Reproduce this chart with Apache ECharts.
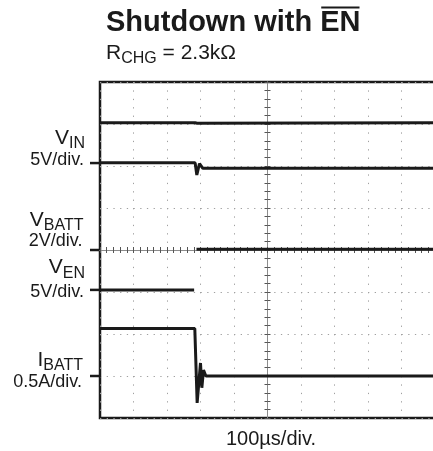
<!DOCTYPE html>
<html>
<head>
<meta charset="utf-8">
<script src="https://cdn.jsdelivr.net/npm/echarts@6/dist/echarts.min.js"></script>
<style>
html, body { margin: 0; padding: 0; background: #fff; }
#chart { width: 433px; height: 451px; }
</style>
</head>
<body>
<div id="chart"></div>
<script>
// scope screen: 100us/div, t = 0 at the centre graticule line
const timeMin = -500
const timeMax = 500
const timeDiv = 100

// channels
const chSymbol = ['V', 'V', 'V', 'I']
const chSub = ['IN', 'BATT', 'EN', 'BATT']
const chScaleText = ['5V/div.', '2V/div.', '5V/div.', '0.5A/div.']
const chPerDiv = [5, 2, 5, 0.5]
const chGround = [2.07, 0, -0.95, -3]   // ground marker, divisions above centre

// traces (t in us, value in V or A)
const vinT = [-500, -216, -213, -210, 500]
const vinV = [4.8, 4.8, 5.0, 4.75, 4.8]

const vbattT = [-500, -216, -211, -203, -193, 500]
const vbattV = [4.15, 4.15, 3.57, 4.12, 3.89, 3.89]

const venT = [-500, -219, -216, -212, 500]
const venV = [0, 0, null, 4.85, 4.85]

const ibattT = [-500, -217, -210, -200, -196, -191, -184, 500]
const ibattV = [0.565, 0.565, -0.32, 0.155, -0.14, 0.07, 0, 0]

const FONT = '"Liberation Sans", Arial, Helvetica, sans-serif'
const INK = '#1a1a1a'

const chart = echarts.init(document.getElementById('chart'))

function pairs(ts, vs) {
    return ts.map((t, i) => [t, vs[i] == null ? '-' : vs[i]])
}

const traces = [
    {data: pairs(vinT, vinV), ch: 0},
    {data: pairs(vbattT, vbattV), ch: 1},
    {data: pairs(venT, venV), ch: 2},
    {data: pairs(ibattT, ibattV), ch: 3}
]

const gridDotV = {color: '#a0a0a0', width: 1, type: [1.3, 7.1]}
const gridDotH = {color: '#a0a0a0', width: 1, type: [1.3, 5.4]}
const centreLine = {color: '#8c8c8c', width: 1}
const centreTick = {color: '#555', width: 1}

const timeAxis = (pos, withGrid) => ({
    type: 'value', position: pos,
    min: timeMin, max: timeMax, interval: timeDiv,
    axisLine: {show: true, onZero: true, onZeroAxisIndex: 0, lineStyle: centreLine},
    axisTick: {show: true, length: 3, lineStyle: centreTick},
    minorTick: {show: true, splitNumber: 5, length: 3, lineStyle: centreTick},
    axisLabel: {show: false},
    splitLine: {show: withGrid, lineStyle: gridDotV}
})

const divAxis = (pos, withGrid) => ({
    type: 'value', position: pos,
    min: -4, max: 4, interval: 1,
    axisLine: {show: true, onZero: true, onZeroAxisIndex: 0, lineStyle: centreLine},
    axisTick: {show: true, length: 3, lineStyle: centreTick},
    minorTick: {show: true, splitNumber: 5, length: 3, lineStyle: centreTick},
    axisLabel: {show: false},
    splitLine: {show: withGrid, lineStyle: gridDotH}
})

const chAxes = chPerDiv.map((s, i) => ({
    type: 'value', show: false,
    min: (-4 - chGround[i]) * s,
    max: (4 - chGround[i]) * s,
    axisLine: {onZero: false},
    splitLine: {show: false}
}))

const option = {
    animation: false,
    backgroundColor: '#fff',
    grid: {
        left: 100, top: 82, width: 335, height: 336,
        outerBoundsMode: 'none',
        show: true, borderColor: INK, borderWidth: 2.5
    },
    xAxis: [timeAxis('bottom', true), timeAxis('top', false)],
    yAxis: [divAxis('left', true), divAxis('right', false)].concat(chAxes),
    series: traces.map(tr => ({
        type: 'line',
        xAxisIndex: 0,
        yAxisIndex: 2 + tr.ch,
        data: tr.data,
        showSymbol: false,
        symbol: 'none',
        connectNulls: false,
        lineStyle: {color: INK, width: 3}
    }))
}
chart.setOption(option)

// text helpers
const measure = document.createElement('canvas').getContext('2d')
function fontStr(size, bold) {
    return (bold ? 'bold ' : '') + size + 'px ' + FONT
}
function widthOf(str, size, bold) {
    measure.font = fontStr(size, bold)
    return measure.measureText(str).width
}
function txt(str, x, base, size, align, bold) {
    return {
        type: 'text', x: x, y: base - 0.3465 * size, silent: true,
        style: {
            text: str, fill: INK, font: fontStr(size, bold),
            align: align, verticalAlign: 'middle',
            textAlign: align, textVerticalAlign: 'middle'
        }
    }
}

const g = []

// title
const titleA = 'Shutdown with '
const titleB = 'EN'
const tSize = 29
g.push(txt(titleA + titleB, 106, 33.5, tSize, 'left', true))
const ex1 = 106 + widthOf(titleA, tSize, true)
const ex2 = 106 + widthOf(titleA + titleB, tSize, true)
g.push({type: 'line', silent: true, shape: {x1: ex1 + 1, y1: 7.5, x2: ex2 - 1, y2: 7.5}, style: {stroke: INK, lineWidth: 2.2}})

// subtitle R_CHG = 2.3kΩ
const sSize = 21, subSize = 16
let sx = 106
g.push(txt('R', sx, 60, sSize, 'left'))
sx += widthOf('R', sSize)
g.push(txt('CHG', sx, 64.5, subSize, 'left'))
sx += widthOf('CHG', subSize)
g.push(txt(' = 2.3k\u03A9', sx, 60, sSize, 'left'))

// time base
g.push(txt('100\u00B5s/div.', 271, 446, 20, 'center'))

// channel markers and labels (offsets from marker line)
const labelLayout = [
    {symBase: -18, divBase: 3, right: 85},
    {symBase: -23, divBase: -3, right: 83.5},
    {symBase: -15, divBase: 8, right: 85},
    {symBase: -9, divBase: 12, right: 83}
]
const symSize = 21, chSubSize = 16, divSize = 18
chSymbol.forEach((sym, i) => {
    const y = chart.convertToPixel({yAxisIndex: 2 + i}, 0)
    const L = labelLayout[i]
    g.push({type: 'line', silent: true, shape: {x1: 90, y1: y, x2: 101, y2: y}, style: {stroke: INK, lineWidth: 2.5}})
    const subW = widthOf(chSub[i], chSubSize)
    g.push(txt(chSub[i], L.right, y + L.symBase + 4.5, chSubSize, 'right'))
    g.push(txt(sym, L.right - subW, y + L.symBase, symSize, 'right'))
    g.push(txt(chScaleText[i], L.right - 1, y + L.divBase, divSize, 'right'))
})

chart.setOption({graphic: {elements: g}})
</script>
</body>
</html>
